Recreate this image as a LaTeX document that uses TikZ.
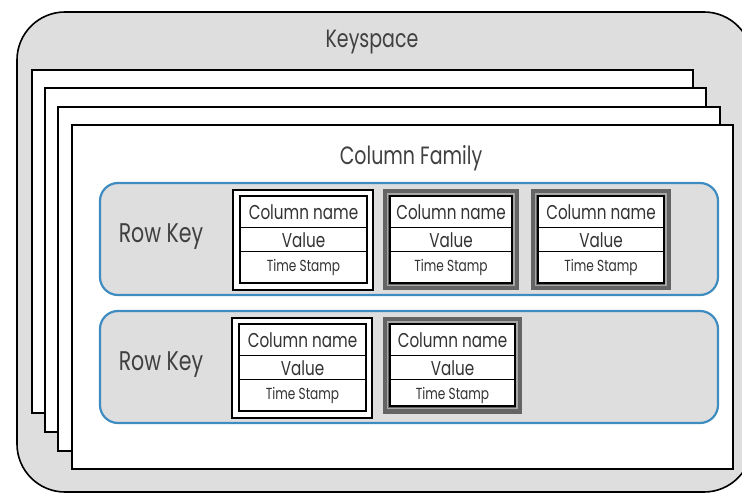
\documentclass[tikz,border=0pt]{standalone}
\usepackage{fontspec}
\setmainfont{Poppins}[FakeStretch=0.76]
\definecolor{ksgray}{HTML}{DEDEDE}
\definecolor{rowblue}{HTML}{3F8CC0}
\definecolor{framegray}{HTML}{646464}
\definecolor{framelight}{HTML}{A8A8A8}
\begin{document}
\begin{tikzpicture}[x=1pt,y=-1pt,
  keyspace/.style={draw=black,line width=1.6pt,fill=ksgray,rounded corners=48pt},
  page/.style={draw=black,line width=2pt,fill=white},
  rowbox/.style={draw=rowblue,line width=2.2pt,fill=ksgray,rounded corners=18pt},
  cellouterA/.style={draw=black,line width=2.2pt,fill=white},
  cellouterB/.style={draw=framegray,line width=1pt,fill=framegray},
  cellinner/.style={draw=black,line width=1.4pt,fill=white},
  divline/.style={draw=black,line width=1pt},
  bigtext/.style={font=\fontsize{25}{28}\selectfont,text=black!75,inner sep=0pt},
  rowtext/.style={font=\fontsize{27}{30}\selectfont,text=black!75,inner sep=0pt},
  celltext/.style={font=\fontsize{20}{22}\selectfont,text=black!80,inner sep=0pt},
  smalltext/.style={font=\fontsize{16}{18}\selectfont,text=black!80,inner sep=0pt}
]
\useasboundingbox (0,0) rectangle (742,494);
\fill[white] (0,0) rectangle (742,494);
% keyspace
\draw[keyspace] (17,12) rectangle (752,492);
\node[bigtext] (ks) at (372,42) {Keyspace};
% pages
\draw[page] (32,70) rectangle (693,413);
\draw[page] (45,88) rectangle (706,432);
\draw[page] (58,107) rectangle (720,451);
\draw[page] (72,125) rectangle (733,469);
\node[bigtext] (cf) at (411,158) {Column Family};
% rows
\draw[rowbox] (100,183) rectangle (718,295);
\draw[rowbox] (100,311) rectangle (718,423);
\node[rowtext] (rk1) at (161,237) {Row Key};
\node[rowtext] (rk2) at (161,365) {Row Key};
% cell macro: #1 style, #2 x0, #3 y0, #4 x1, #5 y1, #6 name
\newcommand\mycell[6]{%
  \draw[#1] (#2,#3) rectangle (#4,#5);
  \draw[cellinner] ({#2+7},{#3+6}) rectangle ({#4-6},{#5-7});
  \draw[divline] ({#2+7},{#3+38}) -- ({#4-6},{#3+38});
  \draw[divline] ({#2+7},{#3+62}) -- ({#4-6},{#3+62});
  \node[celltext] (#6n) at ({(#2+#4)/2+0.5},{#3+22}) {Column name};
  \node[celltext] (#6v) at ({(#2+#4)/2+0.5},{#3+50}) {Value};
  \node[smalltext] (#6t) at ({(#2+#4)/2+0.5},{#3+77}) {Time Stamp};
}
\newcommand\mybcell[6]{%
  \draw[cellouterB] (#2,#3) rectangle (#4,#5);
  \draw[framelight,line width=1.2pt] ({#2+4.5},{#3+4}) rectangle ({#4-4},{#5-4.5});
  \draw[cellinner] ({#2+7},{#3+6}) rectangle ({#4-6},{#5-7});
  \draw[divline] ({#2+7},{#3+38}) -- ({#4-6},{#3+38});
  \draw[divline] ({#2+7},{#3+62}) -- ({#4-6},{#3+62});
  \node[celltext] (#6n) at ({(#2+#4)/2+0.5},{#3+22}) {Column name};
  \node[celltext] (#6v) at ({(#2+#4)/2+0.5},{#3+50}) {Value};
  \node[smalltext] (#6t) at ({(#2+#4)/2+0.5},{#3+77}) {Time Stamp};
}
\mycell{cellouterA}{233}{190}{373}{290}{c11}
\mybcell{}{383}{190}{518}{290}{c12}
\mybcell{}{531}{190}{670}{290}{c13}
\mycell{cellouterA}{232}{318}{372}{418}{c21}
\mybcell{}{383}{318}{521}{413}{c22}
\end{tikzpicture}
\end{document}
